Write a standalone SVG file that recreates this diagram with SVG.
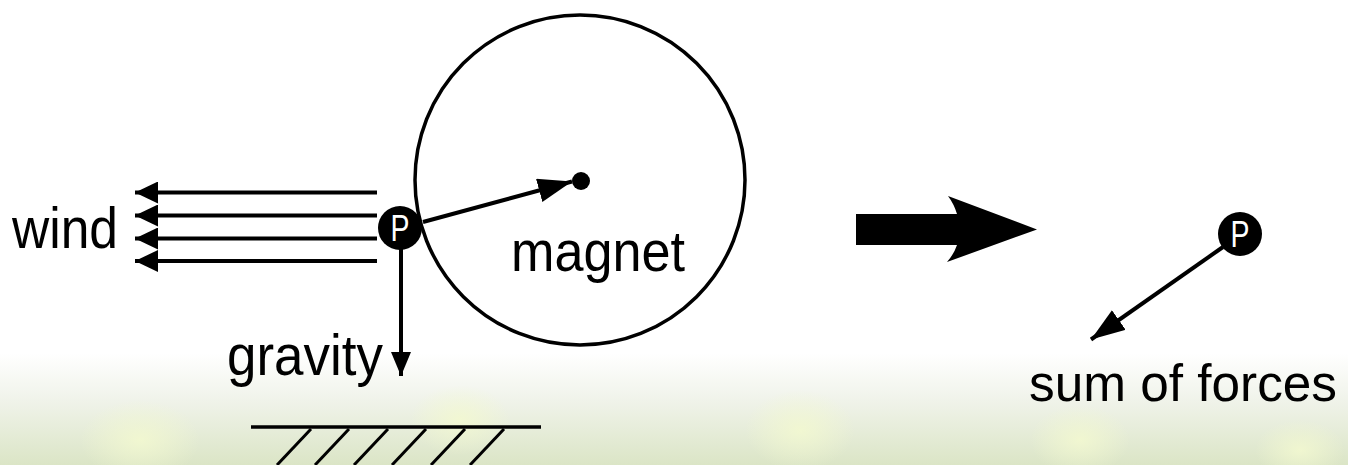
<svg xmlns="http://www.w3.org/2000/svg" width="1348" height="465" viewBox="0 0 1348 465">
<defs>
<linearGradient id="bg" x1="0" y1="0" x2="0" y2="1">
<stop offset="0" stop-color="#ffffff"/>
<stop offset="0.76" stop-color="#ffffff"/>
<stop offset="0.86" stop-color="#f0f3ea"/>
<stop offset="1" stop-color="#dbe5c6"/>
</linearGradient>
<radialGradient id="spot">
<stop offset="0" stop-color="#f3f9d0" stop-opacity="0.85"/>
<stop offset="1" stop-color="#f3f9d0" stop-opacity="0"/>
</radialGradient>
<marker id="ah" viewBox="0 0 34 24" refX="34" refY="12" markerWidth="34" markerHeight="24" markerUnits="userSpaceOnUse" orient="auto">
<path d="M0,0 L34,12 L0,24 Z" fill="#000"/>
</marker>
<marker id="ahg" viewBox="0 0 24 20" refX="24" refY="10" markerWidth="24" markerHeight="20" markerUnits="userSpaceOnUse" orient="auto">
<path d="M0,0 L24,10 L0,20 Z" fill="#000"/>
</marker>
<marker id="ahw" viewBox="0 0 23 22" refX="23" refY="11" markerWidth="23" markerHeight="22" markerUnits="userSpaceOnUse" orient="auto">
<path d="M0,0 L23,11 L0,22 Z" fill="#000"/>
</marker>
</defs>
<style>
.lbl{font-family:"Liberation Sans",Arial,sans-serif;font-size:57px;fill:#000}
.sm{font-size:52px}
.pt{font-family:"Liberation Sans",Arial,sans-serif;font-size:36px;fill:#fff;text-anchor:middle}
.ln{stroke:#000;stroke-width:4;fill:none}
</style>
<rect x="0" y="0" width="1348" height="465" fill="url(#bg)"/>
<ellipse cx="140" cy="440" rx="60" ry="40" fill="url(#spot)"/>
<ellipse cx="460" cy="420" rx="50" ry="35" fill="url(#spot)"/>
<ellipse cx="800" cy="430" rx="55" ry="40" fill="url(#spot)"/>
<ellipse cx="1080" cy="440" rx="50" ry="35" fill="url(#spot)"/>
<ellipse cx="1300" cy="450" rx="45" ry="30" fill="url(#spot)"/>

<g id="magnet">
<circle cx="580" cy="180" r="165" fill="none" stroke="#000" stroke-width="3.5"/>
<circle cx="581" cy="181" r="9" fill="#000"/>
<text class="lbl" x="511" y="271" textLength="174" lengthAdjust="spacingAndGlyphs">magnet</text>
</g>

<g id="ground">
<line x1="251" y1="427" x2="541" y2="427" stroke="#000" stroke-width="3.5"/>
<g stroke="#000" stroke-width="3">
<line x1="311" y1="429" x2="277" y2="465"/>
<line x1="349" y1="429" x2="315" y2="465"/>
<line x1="388" y1="429" x2="354" y2="465"/>
<line x1="426" y1="429" x2="392" y2="465"/>
<line x1="465" y1="429" x2="431" y2="465"/>
<line x1="504" y1="429" x2="470" y2="465"/>
</g>
</g>

<g id="connectors">
<line class="ln" x1="377" y1="192.5" x2="135" y2="192.5" marker-end="url(#ahw)"/>
<line class="ln" x1="377" y1="215.5" x2="135" y2="215.5" marker-end="url(#ahw)"/>
<line class="ln" x1="377" y1="238.5" x2="135" y2="238.5" marker-end="url(#ahw)"/>
<line class="ln" x1="377" y1="261" x2="135" y2="261" marker-end="url(#ahw)"/>
<line class="ln" x1="423" y1="222" x2="572" y2="181.5" marker-end="url(#ah)"/>
<line class="ln" x1="401" y1="248" x2="401" y2="376" marker-end="url(#ahg)"/>
<line class="ln" x1="1223" y1="247" x2="1091" y2="339.5" marker-end="url(#ah)"/>
<path d="M856,214 H957 Q954,204 948,196 L1037,229.5 L947,262 Q954,254 957,245 H856 Z" fill="#000"/>
</g>

<g id="labels">
<text class="lbl" x="12" y="248" textLength="106" lengthAdjust="spacingAndGlyphs">wind</text>
<text class="lbl" x="227" y="375" textLength="156" lengthAdjust="spacingAndGlyphs">gravity</text>
<text class="lbl sm" x="1029" y="401" textLength="308" lengthAdjust="spacingAndGlyphs">sum of forces</text>
</g>

<g id="p1">
<circle cx="400" cy="228" r="22" fill="#000"/>
<text class="pt" x="400" y="241" textLength="19" lengthAdjust="spacingAndGlyphs">P</text>
</g>
<g id="p2">
<circle cx="1240" cy="234" r="22" fill="#000"/>
<text class="pt" x="1240" y="247" textLength="19" lengthAdjust="spacingAndGlyphs">P</text>
</g>
</svg>
